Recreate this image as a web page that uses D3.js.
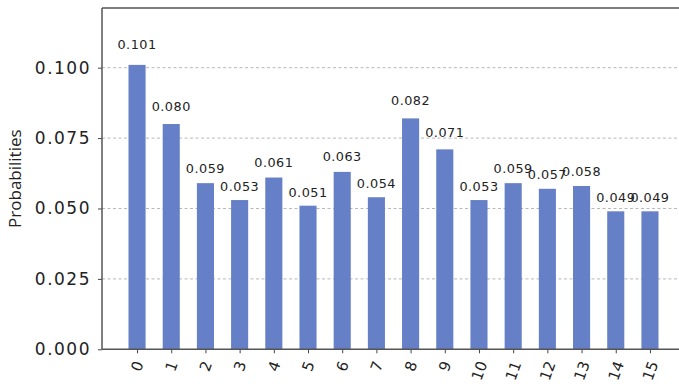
<!DOCTYPE html>
<html>
<head>
<meta charset="utf-8">
<script src="https://cdn.jsdelivr.net/npm/d3@7"></script>
<style>
  html, body { margin: 0; padding: 0; background: #fff; }
  svg { display: block; }
  text { font-family: "DejaVu Sans", sans-serif; fill: #222; }
</style>
</head>
<body>
<svg id="chart" width="679" height="387"></svg>
<script>
// Measured outcome probabilities for the 16 basis states
const states = ["0","1","2","3","4","5","6","7","8","9","10","11","12","13","14","15"];
const probabilities = [0.101, 0.080, 0.059, 0.053, 0.061, 0.051, 0.063, 0.054,
                       0.082, 0.071, 0.053, 0.059, 0.057, 0.058, 0.049, 0.049];
const yTicks = [0.000, 0.025, 0.050, 0.075, 0.100];
const yLabel = "Probabilities";

const svg = d3.select("#chart");
const plot = { left: 102, right: 685, top: 8, bottom: 349.3 };
const barWidth = 0.5;

// Numeric x positions with matplotlib-style 5% margins around the bars
const n = states.length;
const span = (n - 1) + barWidth;
const pad = 0.05 * span;
const x = d3.scaleLinear()
  .domain([-barWidth / 2 - pad, (n - 1) + barWidth / 2 + pad])
  .range([plot.left, plot.right]);

const yMax = d3.max(probabilities) * 1.2;
const y = d3.scaleLinear().domain([0, yMax]).range([plot.bottom, plot.top]);

// Dashed horizontal grid
svg.append("g")
  .selectAll("line")
  .data(yTicks.filter(d => d > 0))
  .join("line")
  .attr("x1", plot.left).attr("x2", plot.right)
  .attr("y1", d => y(d)).attr("y2", d => y(d))
  .attr("stroke", "#b8b8b8")
  .attr("stroke-width", 1)
  .attr("stroke-dasharray", "3,2.5");

// Bars
svg.append("g")
  .selectAll("rect")
  .data(probabilities)
  .join("rect")
  .attr("x", (d, i) => x(i - barWidth / 2))
  .attr("width", (d, i) => x(i + barWidth / 2) - x(i - barWidth / 2))
  .attr("y", d => y(d))
  .attr("height", d => y(0) - y(d))
  .attr("fill", "#6680c8");

// Value labels above each bar
svg.append("g")
  .selectAll("text")
  .data(probabilities)
  .join("text")
  .attr("x", (d, i) => x(i))
  .attr("y", d => y(d * 1.05) - 2)
  .attr("text-anchor", "middle")
  .attr("font-size", 12.8)
  .attr("letter-spacing", 0.5)
  .text(d => d.toFixed(3));

// Y axis
const yAxis = d3.axisLeft(y)
  .tickValues(yTicks)
  .tickFormat(d3.format(".3f"))
  .tickSize(4)
  .tickPadding(7);
const yg = svg.append("g")
  .attr("transform", `translate(${plot.left},0)`)
  .call(yAxis);
yg.select(".domain").remove();
yg.selectAll(".tick line").attr("stroke", "#444");
yg.selectAll(".tick text")
  .attr("font-size", 17)
  .attr("letter-spacing", 1.5)
  .attr("fill", "#1a1a1a")
  .style("font-family", "DejaVu Sans, sans-serif");

// X axis ticks
const xAxis = d3.axisBottom(x)
  .tickValues(d3.range(n))
  .tickFormat(i => states[i])
  .tickSize(4);
const xg = svg.append("g")
  .attr("transform", `translate(0,${plot.bottom})`)
  .call(xAxis);
xg.select(".domain").remove();
xg.selectAll(".tick line").attr("stroke", "#444");
// Rotated tick labels: the rotated box's top sits just below the tick
xg.selectAll(".tick text").each(function () {
  const t = d3.select(this)
    .attr("font-size", 15)
    .attr("fill", "#222")
    .style("font-family", "DejaVu Sans, sans-serif")
    .attr("text-anchor", "middle")
    .attr("dy", null)
    .attr("dominant-baseline", "central")
    .attr("y", 0);
  const L = this.getComputedTextLength();
  const h = 15 * 1.0;
  const a = 70 * Math.PI / 180;
  const boxH = L * Math.sin(a) + h * Math.cos(a);
  t.attr("transform", `translate(0,${10 + boxH / 2}) rotate(-70)`);
});

// Frame: left, top and bottom spines
const spine = svg.append("g").attr("stroke", "#555").attr("stroke-width", 1.5).attr("fill", "none");
spine.append("line").attr("x1", plot.left).attr("x2", plot.left).attr("y1", plot.top).attr("y2", plot.bottom);
spine.append("line").attr("x1", plot.left).attr("x2", plot.right).attr("y1", plot.top).attr("y2", plot.top);
spine.append("line").attr("x1", plot.left).attr("x2", plot.right).attr("y1", plot.bottom).attr("y2", plot.bottom);

// Y axis title
svg.append("text")
  .attr("transform", `translate(21,${(plot.top + plot.bottom) / 2}) rotate(-90)`)
  .attr("text-anchor", "middle")
  .attr("font-size", 17)
  .style("font-family", "'Open Sans', sans-serif")
  .text(yLabel);
</script>
</body>
</html>
